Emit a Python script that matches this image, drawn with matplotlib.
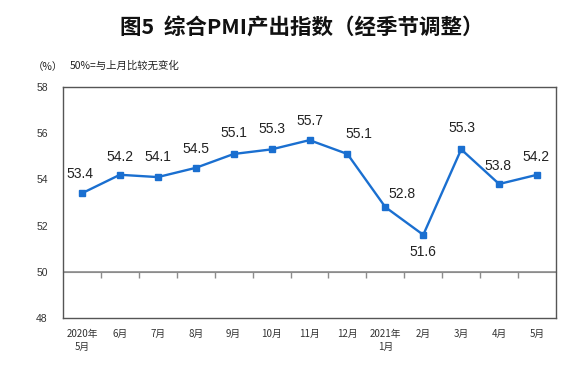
import matplotlib
matplotlib.use("Agg")
import matplotlib.pyplot as plt

plt.rcParams['font.family'] = ['Noto Sans CJK SC', 'DejaVu Sans']

months = ["2020年\n5月", "6月", "7月", "8月", "9月", "10月", "11月", "12月",
          "2021年\n1月", "2月", "3月", "4月", "5月"]
values = [53.4, 54.2, 54.1, 54.5, 55.1, 55.3, 55.7, 55.1, 52.8, 51.6, 55.3, 53.8, 54.2]
yticks = [48, 50, 52, 54, 56, 58]
# label offsets (pixels) relative to point
offsets = [(-2, 19), (0, 18), (0, 20), (0, 19), (0, 21), (0, 20), (0, 19), (11, 20),
           (17, 13), (0, -17), (1, 21), (-1, 18), (-1, 18)]

fig = plt.figure(figsize=(5.87, 3.68), dpi=100)
ax = fig.add_axes([63/587, 1 - 318/368, (556-63)/587, (318-87)/368])

x = list(range(len(values)))
color = '#1a6fd0'
ax.plot(x, values, color=color, lw=1.7, marker='s', ms=4.5, zorder=3)
ax.set_xlim(-0.5, len(values) - 0.5)
ax.set_ylim(48, 58)
ax.set_yticks(yticks)
ax.set_yticklabels([str(t) for t in yticks], fontsize=7.5, family=['Liberation Sans'], color='#333333')
ax.tick_params(axis='y', length=0, pad=11)
ax.set_xticks(x)
ax.set_xticklabels(months, fontsize=7, color='#333333', linespacing=1.3)
ax.tick_params(axis='x', length=0, pad=8)
for s in ax.spines.values():
    s.set_color('#555555')
    s.set_linewidth(1.0)

ax.axhline(50, color='#8c8c8c', lw=1.2, zorder=2)
sec = ax.secondary_xaxis(0.2)
sec.set_xticks([i + 0.5 for i in range(len(values) - 1)])
sec.set_xticklabels([])
sec.tick_params(axis='x', direction='out', length=4, color='#8c8c8c', width=1)
sec.spines['bottom'].set_color('#8c8c8c')

for xi, v, (dx, dy) in zip(x, values, offsets):
    ax.annotate(f"{v:.1f}", (xi, v), xytext=(dx, dy), textcoords='offset pixels',
                ha='center', va='center', fontsize=10, family=['Liberation Sans'], color='#222222')

fig.text(302/587, 1 - 28/368, "图5  综合PMI产出指数（经季节调整）", ha='center', va='center',
         fontsize=15.5, fontweight='bold', color='#111111')
fig.text(48/587, 1 - 67/368, "（%）", ha='center', va='center', fontsize=7.5, color='#222222')
fig.text(70/587, 1 - 66/368, "50%=与上月比较无变化", ha='left', va='center', fontsize=7.5, color='#222222')

fig.savefig("out.png", dpi=100)
